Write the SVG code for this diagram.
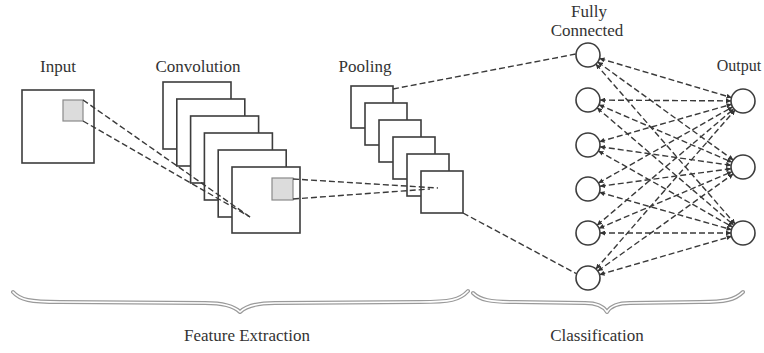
<svg xmlns="http://www.w3.org/2000/svg" width="764" height="353" viewBox="0 0 764 353">
  <style>
    .lbl { font-family: "Liberation Serif", "Times New Roman", serif; font-size: 17px; fill: #333; }
    .map { fill: #fff; stroke: #3d3d3d; stroke-width: 1.6; }
    .patch { fill: #dcdcdc; stroke: #8a8a8a; stroke-width: 1.2; }
    .node { fill: #fff; stroke: #3d3d3d; stroke-width: 1.6; }
    .dash { fill: none; stroke: #3a3a3a; stroke-width: 1.4; stroke-dasharray: 6 3; }
    .brace-out { fill: none; stroke: #9a9a9a; stroke-width: 4; stroke-linecap: round; stroke-linejoin: round; }
    .brace-in { fill: none; stroke: #fff; stroke-width: 1.6; stroke-linecap: round; stroke-linejoin: round; }
  </style>
  <defs>
    <marker id="tip" viewBox="0 0 6 6" refX="6" refY="3" markerWidth="5" markerHeight="5" markerUnits="userSpaceOnUse" orient="auto-start-reverse">
      <path d="M0,0 L6,3 L0,6 z" fill="#333"/>
    </marker>
    <path id="braceL" d="M13,292 C20,300 30,302 60,302 L205,303 C225,303 235,307 240,312 C245,307 255,303 275,303 L420,302 C450,302 460,300 468,291"/>
    <path id="braceR" d="M473,293 C480,300 490,302 515,302 L585,303 C598,303 604,307 607,312 C610,307 616,303 630,303 L700,302 C725,302 735,300 743,292"/>
  </defs>
  <rect width="764" height="353" fill="#fff"/>

  <!-- input image -->
  <g id="input">
    <text class="lbl" x="58" y="72" text-anchor="middle">Input</text>
    <rect class="map" x="22" y="90" width="72" height="73"/>
    <rect class="patch" x="63" y="100" width="20" height="21"/>
  </g>

  <!-- convolution feature maps -->
  <g id="convolution">
    <text class="lbl" x="198" y="72" text-anchor="middle">Convolution</text>
    <rect class="map" x="163" y="82" width="68" height="67"/>
    <rect class="map" x="176.8" y="99" width="68" height="67"/>
    <rect class="map" x="190.6" y="116" width="68" height="67"/>
    <rect class="map" x="204.4" y="133" width="68" height="67"/>
    <rect class="map" x="218.2" y="150" width="68" height="67"/>
    <rect class="map" x="232" y="167" width="68" height="66"/>
    <rect class="patch" x="272" y="178" width="21" height="22"/>
  </g>

  <!-- pooled feature maps -->
  <g id="pooling">
    <text class="lbl" x="365" y="72" text-anchor="middle">Pooling</text>
    <rect class="map" x="351" y="86" width="42" height="42"/>
    <rect class="map" x="365" y="103" width="42" height="42"/>
    <rect class="map" x="379" y="120" width="42" height="42"/>
    <rect class="map" x="393" y="137" width="42" height="42"/>
    <rect class="map" x="407" y="154" width="42" height="42"/>
    <rect class="map" x="421" y="171" width="42" height="42"/>
  </g>

  <!-- connectors -->
  <g id="connectors">
    <line class="dash" x1="83" y1="100" x2="250" y2="217"/>
    <line class="dash" x1="83" y1="121" x2="250" y2="217"/>
    <line class="dash" x1="293" y1="179" x2="438" y2="188"/>
    <line class="dash" x1="293" y1="199" x2="430" y2="189"/>
    <line class="dash" x1="393" y1="89" x2="576" y2="54"/>
    <line class="dash" x1="463" y1="213" x2="577" y2="274"/>
    <g marker-start="url(#tip)" marker-end="url(#tip)">
      <line class="dash" x1="599.5" y1="58.4" x2="731.5" y2="97.6"/>
      <line class="dash" x1="597.7" y1="62.0" x2="733.3" y2="160.0"/>
      <line class="dash" x1="595.9" y1="64.1" x2="735.1" y2="223.9"/>
      <line class="dash" x1="600" y1="100.1" x2="731" y2="100.9"/>
      <line class="dash" x1="599.0" y1="104.8" x2="732.0" y2="162.2"/>
      <line class="dash" x1="597.1" y1="107.8" x2="733.9" y2="225.2"/>
      <line class="dash" x1="599.5" y1="141.7" x2="731.5" y2="104.3"/>
      <line class="dash" x1="599.9" y1="146.7" x2="731.1" y2="165.3"/>
      <line class="dash" x1="598.4" y1="150.9" x2="732.6" y2="227.1"/>
      <line class="dash" x1="598.4" y1="183.1" x2="732.6" y2="106.9"/>
      <line class="dash" x1="599.9" y1="186.3" x2="731.1" y2="168.7"/>
      <line class="dash" x1="599.5" y1="192.3" x2="731.5" y2="229.7"/>
      <line class="dash" x1="597.1" y1="225.2" x2="733.9" y2="108.8"/>
      <line class="dash" x1="599.0" y1="228.3" x2="732.0" y2="171.7"/>
      <line class="dash" x1="600" y1="233" x2="731" y2="233"/>
      <line class="dash" x1="595.9" y1="269.0" x2="735.1" y2="110.0"/>
      <line class="dash" x1="597.8" y1="271.0" x2="733.2" y2="174.0"/>
      <line class="dash" x1="599.5" y1="274.7" x2="731.5" y2="236.3"/>
    </g>
  </g>

  <!-- fully connected layer -->
  <g id="fully-connected">
    <text class="lbl" x="589" y="17" text-anchor="middle">Fully</text>
    <text class="lbl" x="587" y="36" text-anchor="middle">Connected</text>
    <circle class="node" cx="588" cy="55" r="12"/>
    <circle class="node" cx="588" cy="100" r="12"/>
    <circle class="node" cx="588" cy="145" r="12"/>
    <circle class="node" cx="588" cy="189" r="12"/>
    <circle class="node" cx="588" cy="233" r="12"/>
    <circle class="node" cx="588" cy="278" r="12"/>
  </g>

  <!-- output layer -->
  <g id="output">
    <text class="lbl" x="739" y="71" text-anchor="middle" style="font-size:16px">Output</text>
    <circle class="node" cx="743" cy="101" r="12"/>
    <circle class="node" cx="743" cy="167" r="12"/>
    <circle class="node" cx="743" cy="233" r="12"/>
  </g>

  <!-- stage braces -->
  <g id="feature-extraction">
    <use href="#braceL" class="brace-out"/>
    <use href="#braceL" class="brace-in"/>
    <text class="lbl" x="247" y="341" text-anchor="middle">Feature Extraction</text>
  </g>
  <g id="classification">
    <use href="#braceR" class="brace-out"/>
    <use href="#braceR" class="brace-in"/>
    <text class="lbl" x="597" y="341" text-anchor="middle">Classification</text>
  </g>
</svg>
